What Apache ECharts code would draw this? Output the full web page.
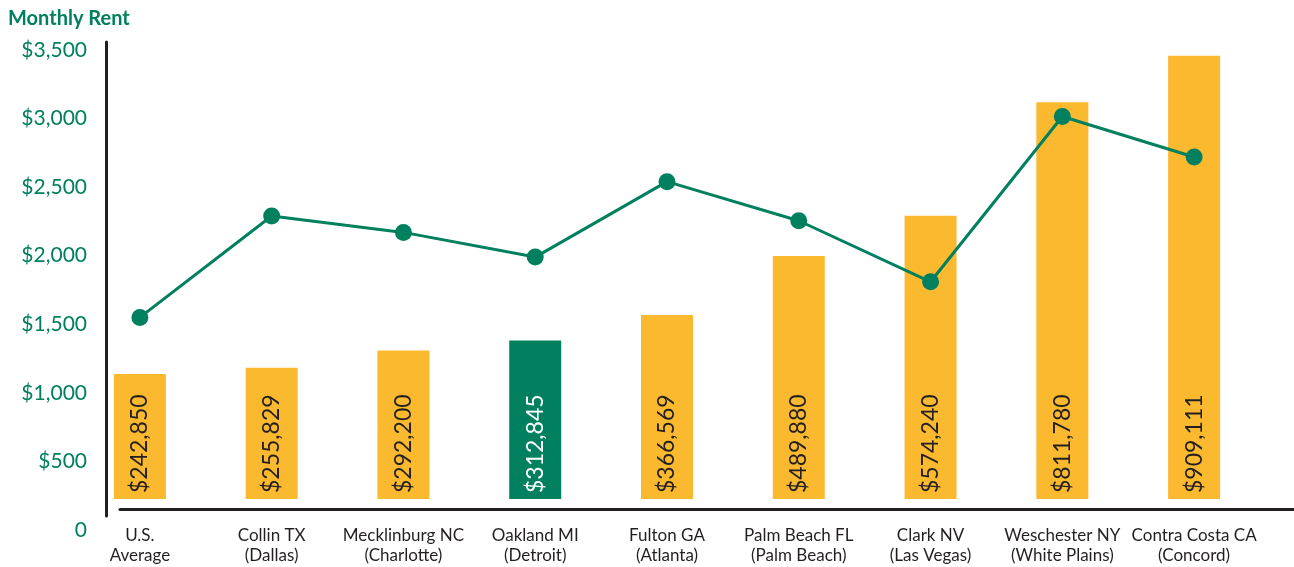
<!DOCTYPE html>
<html>
<head>
<meta charset="utf-8">
<script src="https://cdn.jsdelivr.net/npm/echarts@6/dist/echarts.min.js"></script>
<style>
html,body{margin:0;padding:0;background:#fff;}
#chart{width:1294px;height:567px;}
</style>
</head>
<body>
<div id="chart"></div>
<script>
const categories = [
  'U.S.\nAverage', 'Collin TX\n(Dallas)', 'Mecklinburg NC\n(Charlotte)', 'Oakland MI\n(Detroit)',
  'Fulton GA\n(Atlanta)', 'Palm Beach FL\n(Palm Beach)', 'Clark NV\n(Las Vegas)',
  'Weschester NY\n(White Plains)', 'Contra Costa CA\n(Concord)'
];
const homeValues = [242850, 255829, 292200, 312845, 366569, 489880, 574240, 811780, 909111];
const monthlyRent = [1550, 2290, 2170, 1990, 2540, 2255, 1810, 3015, 2720];
const rentTicks = [0, 500, 1000, 1500, 2000, 2500, 3000, 3500];
const highlighted = 'Oakland MI\n(Detroit)';

const GREEN = '#00805f';
const YELLOW = '#fbb930';
const DARK = '#231f20';
const FONT = 'Lato, "Noto Sans", sans-serif';

const fmtMoney = v => '$' + v.toLocaleString('en-US');

const chart = echarts.init(document.getElementById('chart'), null, {renderer: 'canvas'});
chart.setOption({
  animation: false,
  title: {
    text: 'Monthly Rent', left: 3, top: 4,
    textStyle: {color: GREEN, fontFamily: FONT, fontWeight: 'bold', fontSize: 20}
  },
  grid: [
    {left: 74, right: 34, top: 50, bottom: 37},
    {left: 74, right: 34, top: 42, bottom: 68},
    {left: 106, right: 0, top: 42, bottom: 51},
    {left: 120, right: 0, top: 42, bottom: 58}
  ],
  xAxis: [
    {gridIndex: 0, type: 'category', data: categories, show: false},
    {gridIndex: 1, type: 'category', data: categories,
      axisLine: {show: false}, axisTick: {show: false},
      axisLabel: {margin: 27, color: DARK, fontFamily: FONT, fontSize: 17, lineHeight: 20, interval: 0}},
    {gridIndex: 2, type: 'value', show: false},
    {gridIndex: 3, type: 'value', axisLine: {show: true, lineStyle: {color: DARK, width: 3}},
      axisTick: {show: false}, axisLabel: {show: false}, splitLine: {show: false}}
  ],
  yAxis: [
    {gridIndex: 0, type: 'value', min: rentTicks[0], max: rentTicks[rentTicks.length - 1], interval: 500,
      offset: -21,
      axisLine: {show: false}, axisTick: {show: false}, splitLine: {show: false},
      axisLabel: {margin: 8, color: GREEN, fontFamily: FONT, fontSize: 21,
        formatter: v => v === 0 ? '0' : fmtMoney(v)}},
    {gridIndex: 1, type: 'value', min: -19000, max: 938000, startValue: -19000, show: false,
      splitLine: {show: false}},
    {gridIndex: 2, type: 'value', axisLine: {show: true, lineStyle: {color: DARK, width: 3}},
      axisTick: {show: false}, axisLabel: {show: false}, splitLine: {show: false}},
    {gridIndex: 3, type: 'value', show: false, splitLine: {show: false}}
  ],
  series: [
    {
      type: 'bar', xAxisIndex: 1, yAxisIndex: 1, barWidth: 52,
      data: homeValues.map((v, i) => ({
        value: v,
        itemStyle: {color: categories[i] === highlighted ? GREEN : YELLOW},
        label: {color: categories[i] === highlighted ? '#ffffff' : DARK}
      })),
      label: {
        show: true, position: 'insideBottom', rotate: 90, align: 'left', verticalAlign: 'middle',
        distance: 6, fontFamily: FONT, fontSize: 23,
        formatter: p => fmtMoney(p.value)
      }
    },
    {
      type: 'line', xAxisIndex: 0, yAxisIndex: 0, data: monthlyRent,
      symbol: 'circle', symbolSize: 17,
      lineStyle: {color: GREEN, width: 3},
      itemStyle: {color: GREEN}
    },
    {type: 'line', xAxisIndex: 2, yAxisIndex: 2, data: []},
    {type: 'line', xAxisIndex: 3, yAxisIndex: 3, data: []}
  ]
});
</script>
</body>
</html>
